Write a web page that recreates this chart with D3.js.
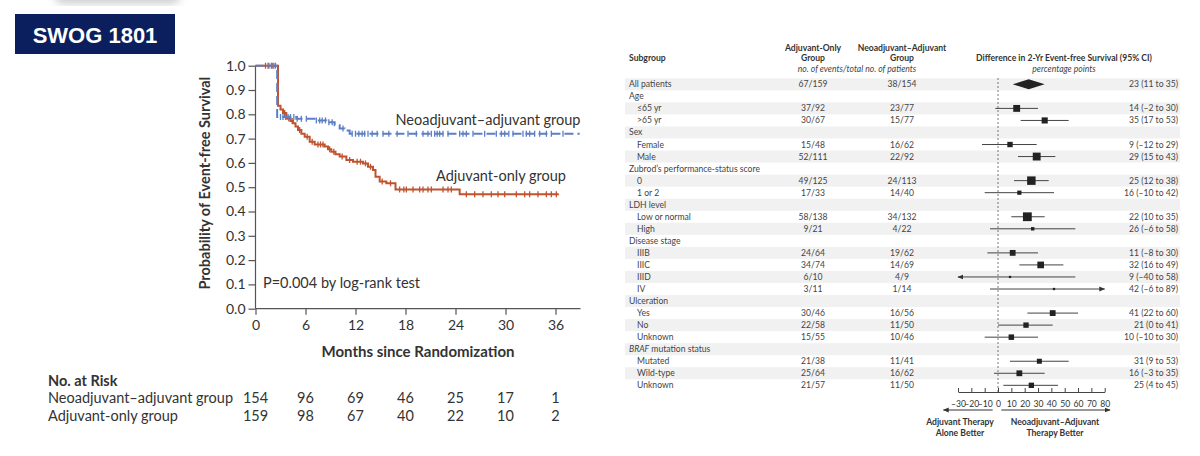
<!DOCTYPE html>
<html>
<head>
<meta charset="utf-8">
<script src="https://cdn.jsdelivr.net/npm/d3@7"></script>
<style>
  body { margin: 0; background: #fff; }
  svg { display: block; font-family: Lato, 'Open Sans', sans-serif; }
</style>
</head>
<body>
<svg width="1200" height="456"></svg>
<script>
// ---- Kaplan-Meier data ----
let riskMonths = [0, 6, 12, 18, 24, 30, 36];
let neoRisk = [154, 96, 69, 46, 25, 17, 1];
let adjRisk = [159, 98, 67, 40, 22, 10, 2];
let yTickValues = [0, 0.1, 0.2, 0.3, 0.4, 0.5, 0.6, 0.7, 0.8, 0.9, 1.0];

// [month, survival] where each step starts
let neoSteps = [[0, 1], [2.6, 0.789], [4.9, 0.782], [7.3, 0.775], [8.5, 0.767], [9.5, 0.755],
  [10.1, 0.742], [10.7, 0.733], [11.3, 0.72], [38.9, 0.72]];
let adjSteps = [[0, 1], [2.7, 0.835], [3.0, 0.82], [3.3, 0.805], [3.7, 0.783], [4.2, 0.772],
  [4.5, 0.763], [4.8, 0.75], [5.1, 0.735], [5.5, 0.72], [5.9, 0.708], [6.5, 0.687], [7.1, 0.676],
  [8.3, 0.667], [8.7, 0.656], [9.1, 0.646], [9.6, 0.636], [10.1, 0.626], [10.9, 0.612],
  [11.7, 0.605], [12.9, 0.598], [13.5, 0.584], [14.1, 0.571], [14.4, 0.543], [14.9, 0.523],
  [15.7, 0.516], [16.8, 0.491], [24.5, 0.471], [36.4, 0.471]];

// censored observations (months)
let neoCensor = [1.5, 1.9, 2.2, 2.4, 3.0, 3.3, 3.6, 3.9, 4.2, 4.6, 5.0, 5.5, 6.1, 7.3, 7.7, 8.0,
  8.4, 8.8, 9.2, 10.5, 11.6, 12.0, 12.4, 12.8, 13.1, 13.5, 14.0, 14.6, 15.3, 16.0, 17.0, 18.3,
  19.3, 20.1, 20.7, 21.1, 21.5, 21.8, 22.1, 22.5, 23.1, 24.5, 24.9, 25.3, 26.1, 27.5, 28.9, 29.5,
  29.9, 30.4, 30.9, 32.1, 32.5, 32.9, 33.5, 34.1, 34.9, 35.5, 36.9];
let adjCensor = [1.2, 1.6, 2.0, 3.5, 4.0, 4.4, 5.3, 6.2, 6.8, 7.5, 7.8, 8.1, 8.9, 9.4, 10.4,
  11.3, 12.2, 12.6, 13.2, 13.8, 15.2, 16.2, 17.3, 17.8, 18.1, 18.9, 19.7, 20.1, 20.7, 21.1, 22.5,
  23.1, 23.5, 25.3, 26.3, 27.3, 28.3, 29.1, 29.9, 31.3, 32.3, 32.9, 33.9, 34.9, 35.5, 36.1];

// ---- Forest plot data ----
let subgroups = ['All patients', 'Age', '≤65 yr', '>65 yr', 'Sex', 'Female', 'Male',
  "Zubrod’s performance-status score", '0', '1 or 2', 'LDH level', 'Low or normal', 'High',
  'Disease stage', 'IIIB', 'IIIC', 'IIID', 'IV', 'Ulceration', 'Yes', 'No', 'Unknown',
  'BRAF mutation status', 'Mutated', 'Wild-type', 'Unknown'];
let adjEvents = ['67/159', null, '37/92', '30/67', null, '15/48', '52/111', null, '49/125', '17/33',
  null, '58/138', '9/21', null, '24/64', '34/74', '6/10', '3/11', null, '30/46', '22/58', '15/55',
  null, '21/38', '25/64', '21/57'];
let neoEvents = ['38/154', null, '23/77', '15/77', null, '16/62', '22/92', null, '24/113', '14/40',
  null, '34/132', '4/22', null, '19/62', '14/69', '4/9', '1/14', null, '16/56', '11/50', '10/46',
  null, '11/41', '16/62', '11/50'];
let diffEst = [23, null, 14, 35, null, 9, 29, null, 25, 16, null, 22, 26, null, 11, 32, 9, 42,
  null, 41, 21, 10, null, 31, 16, 25];
let diffLow = [11, null, -2, 17, null, -12, 15, null, 12, -10, null, 10, -6, null, -8, 16, -40, -6,
  null, 22, 0, -10, null, 9, -3, 4];
let diffHigh = [35, null, 30, 53, null, 29, 43, null, 38, 42, null, 35, 58, null, 30, 49, 58, 89,
  null, 60, 41, 30, null, 53, 35, 45];
let forestTicks = [-30, -20, -10, 0, 10, 20, 30, 40, 50, 60, 70, 80];

let svg = d3.select('svg');
let ink = '#333';
let neoColor = '#5b7fc6';
let adjColor = '#c0532f';

// ---- Title badge ----
let defs = svg.append('defs');
defs.append('filter').attr('id', 'blur').append('feGaussianBlur').attr('stdDeviation', 4);
svg.append('rect').attr('x', 55).attr('y', -14).attr('width', 125).attr('height', 18)
  .attr('rx', 8).attr('fill', '#cfcfcf').attr('filter', 'url(#blur)');
svg.append('rect').attr('x', 15).attr('y', 14).attr('width', 160).attr('height', 40)
  .attr('fill', '#0b1f5e');
svg.append('text').attr('x', 95).attr('y', 42.5).attr('text-anchor', 'middle')
  .attr('fill', '#fff').style('font-family', "'Liberation Sans', Arial, sans-serif")
  .style('font-weight', 700).style('font-size', '22px').text('SWOG 1801');

// ---- KM chart ----
let x = d3.scaleLinear().domain([0, 39]).range([255.5, 580.5]);
let y = d3.scaleLinear().domain([0, 1]).range([308.7, 65.7]);

let km = svg.append('g');

let yAxis = km.append('g').attr('transform', `translate(${x(0)},0)`)
  .call(d3.axisLeft(y).tickValues(yTickValues).tickFormat(d3.format('.1f')).tickSize(7).tickPadding(3));
let xAxis = km.append('g').attr('transform', `translate(0,${y(0)})`)
  .call(d3.axisBottom(x).tickValues(riskMonths).tickSize(6).tickPadding(5));
[xAxis, yAxis].forEach(a => {
  a.selectAll('line').attr('stroke', '#555').attr('stroke-width', 1.2);
  a.select('.domain').attr('stroke', '#555').attr('stroke-width', 1.2);
  a.selectAll('text').attr('fill', ink).style('font-family', 'Lato, sans-serif').style('font-size', '14px');
});
xAxis.select('.domain').attr('d', `M${x(0)},0H${x(39)}`);
yAxis.select('.domain').attr('d', `M0,${y(0)}V${y(1)}`);

km.append('text')
  .attr('transform', `translate(210,${(y(0) + y(1)) / 2 - 4}) rotate(-90)`)
  .attr('text-anchor', 'middle').attr('fill', ink)
  .style('font-size', '14.5px').style('font-weight', 700)
  .text('Probability of Event-free Survival');
km.append('text').attr('x', (x(0) + x(39)) / 2).attr('y', 357).attr('text-anchor', 'middle')
  .attr('fill', ink).style('font-size', '15px').style('font-weight', 700)
  .text('Months since Randomization');

let stepLine = d3.line().x(d => x(d[0])).y(d => y(d[1])).curve(d3.curveStepAfter);

function survAt(steps, t) {
  let i = d3.bisector(d => d[0]).right(steps, t) - 1;
  return steps[Math.max(i, 0)][1];
}

function drawCurve(steps, censor, color, dash) {
  km.append('path').datum(steps).attr('d', stepLine)
    .attr('fill', 'none').attr('stroke', color).attr('stroke-width', 2)
    .attr('stroke-dasharray', dash);
  km.append('g').selectAll('line').data(censor).enter().append('line')
    .attr('x1', d => x(d)).attr('x2', d => x(d))
    .attr('y1', d => y(survAt(steps, d)) - 3).attr('y2', d => y(survAt(steps, d)) + 3)
    .attr('stroke', color).attr('stroke-width', 1.3);
}
drawCurve(adjSteps, adjCensor, adjColor, null);
drawCurve(neoSteps, neoCensor, neoColor, '9,4');

km.append('text').attr('x', x(39)).attr('y', 125).attr('text-anchor', 'end')
  .attr('fill', ink).style('font-size', '14.5px').text('Neoadjuvant–adjuvant group');
km.append('text').attr('x', 436).attr('y', 181)
  .attr('fill', ink).style('font-size', '14.5px').text('Adjuvant-only group');
km.append('text').attr('x', 263).attr('y', 288)
  .attr('fill', ink).style('font-size', '14.5px').text('P=0.004 by log-rank test');

// ---- Number at risk ----
let risk = svg.append('g').attr('fill', ink).style('font-size', '14.5px');
risk.append('text').attr('x', 48).attr('y', 386).style('font-weight', 700).text('No. at Risk');
[['Neoadjuvant–adjuvant group', neoRisk, 403], ['Adjuvant-only group', adjRisk, 421]].forEach(r => {
  risk.append('text').attr('x', 48).attr('y', r[2]).text(r[0]);
  risk.selectAll(null).data(r[1]).enter().append('text')
    .attr('x', (d, i) => x(riskMonths[i])).attr('y', r[2]).attr('text-anchor', 'middle')
    .text(d => d);
});

// ---- Forest plot ----
let xF = d3.scaleLinear().domain([-30, 80]).range([958, 1104.7]);
let yF = d3.scaleBand().domain(d3.range(subgroups.length)).range([78.3, 78.3 + subgroups.length * 12.04]);
let fp = svg.append('g').style('font-size', '8.6px').attr('fill', '#444');

// header
let hdr = fp.append('g').attr('fill', ink).style('font-weight', 700);
hdr.append('text').attr('x', 629).attr('y', 61).text('Subgroup');
hdr.append('text').attr('x', 813).attr('y', 51).attr('text-anchor', 'middle').text('Adjuvant-Only');
hdr.append('text').attr('x', 813).attr('y', 61).attr('text-anchor', 'middle').text('Group');
hdr.append('text').attr('x', 902).attr('y', 51).attr('text-anchor', 'middle').text('Neoadjuvant–Adjuvant');
hdr.append('text').attr('x', 902).attr('y', 61).attr('text-anchor', 'middle').text('Group');
hdr.append('text').attr('x', 1064).attr('y', 61).attr('text-anchor', 'middle')
  .text('Difference in 2-Yr Event-free Survival (95% CI)');
fp.append('text').attr('x', 857).attr('y', 71.5).attr('text-anchor', 'middle')
  .style('font-style', 'italic').text('no. of events/total no. of patients');
fp.append('text').attr('x', 1064).attr('y', 71.5).attr('text-anchor', 'middle')
  .style('font-style', 'italic').text('percentage points');

let bh = yF.bandwidth();
let rows = fp.selectAll('g.row').data(subgroups).enter().append('g').attr('class', 'row')
  .attr('transform', (d, i) => `translate(0,${yF(i)})`);
rows.filter((d, i) => i % 2 === 0).append('rect')
  .attr('x', 625).attr('width', 555).attr('height', bh).attr('fill', '#f1f1f1');

rows.append('text')
  .attr('x', (d, i) => (i > 0 && diffEst[i] !== null) ? 637 : 629)
  .attr('y', bh / 2 + 3)
  .each(function (d) {
    let t = d3.select(this);
    if (d.startsWith('BRAF')) {
      t.append('tspan').style('font-style', 'italic').text('BRAF');
      t.append('tspan').text(d.slice(4));
    } else t.text(d);
  });
rows.append('text').attr('x', 813).attr('y', bh / 2 + 3).attr('text-anchor', 'middle')
  .text((d, i) => adjEvents[i] || '');
rows.append('text').attr('x', 902).attr('y', bh / 2 + 3).attr('text-anchor', 'middle')
  .text((d, i) => neoEvents[i] || '');

let fmt = v => (v < 0 ? '–' + Math.abs(v) : '' + v);
rows.append('text').attr('x', 1178).attr('y', bh / 2 + 3).attr('text-anchor', 'end')
  .text((d, i) => diffEst[i] === null ? '' : `${diffEst[i]} (${fmt(diffLow[i])} to ${fmt(diffHigh[i])})`);

// zero line
fp.append('line').attr('x1', xF(0)).attr('x2', xF(0)).attr('y1', 78).attr('y2', 392)
  .attr('stroke', '#555').attr('stroke-width', 0.8).attr('stroke-dasharray', '2,2');

// arrowhead marker
defs.append('marker').attr('id', 'arr').attr('viewBox', '0 0 10 10').attr('refX', 9).attr('refY', 5)
  .attr('markerWidth', 6).attr('markerHeight', 6).attr('orient', 'auto-start-reverse')
  .attr('markerUnits', 'userSpaceOnUse')
  .append('path').attr('d', 'M0,1L10,5L0,9Z').attr('fill', '#333');

// CIs and markers
let dom = xF.domain();
rows.each(function (d, i) {
  if (diffEst[i] === null) return;
  let g = d3.select(this);
  let cy = bh / 2;
  let lo = diffLow[i], hi = diffHigh[i], est = diffEst[i];
  if (i === 0) {
    g.append('path')
      .attr('d', `M${xF(lo)},${cy}L${xF(est)},${cy - 5}L${xF(hi)},${cy}L${xF(est)},${cy + 5}Z`)
      .attr('fill', '#222');
    return;
  }
  let ln = g.append('line')
    .attr('x1', xF(Math.max(lo, dom[0]))).attr('x2', xF(Math.min(hi, dom[1])))
    .attr('y1', cy).attr('y2', cy).attr('stroke', '#444').attr('stroke-width', 1);
  if (lo < dom[0]) ln.attr('marker-start', 'url(#arr)');
  if (hi > dom[1]) ln.attr('marker-end', 'url(#arr)');
  let side = Math.max(2, 110 / ((hi - lo) / 2));
  g.append('rect').attr('x', xF(est) - side / 2).attr('y', cy - side / 2)
    .attr('width', side).attr('height', side).attr('fill', '#222');
});

// forest axis
let fAxis = fp.append('g').attr('transform', 'translate(0,392)')
  .call(d3.axisBottom(xF).tickValues(forestTicks).tickFormat(fmt).tickSizeInner(-4).tickSizeOuter(0).tickPadding(9));
fAxis.select('.domain').attr('stroke', '#444');
fAxis.selectAll('line').attr('stroke', '#444');
fAxis.selectAll('text').attr('fill', ink).style('font-family', 'Lato, sans-serif').style('font-size', '8.6px');

fp.append('line').attr('x1', xF(-4)).attr('x2', xF(-41)).attr('y1', 410).attr('y2', 410)
  .attr('stroke', '#333').attr('marker-end', 'url(#arr)');
fp.append('line').attr('x1', xF(2.5)).attr('x2', xF(84)).attr('y1', 410).attr('y2', 410)
  .attr('stroke', '#333').attr('marker-end', 'url(#arr)');

let lab = fp.append('g').attr('fill', ink).style('font-weight', 700).attr('text-anchor', 'middle');
lab.append('text').attr('x', 960).attr('y', 425).text('Adjuvant Therapy');
lab.append('text').attr('x', 960).attr('y', 436).text('Alone Better');
lab.append('text').attr('x', 1055).attr('y', 425).text('Neoadjuvant–Adjuvant');
lab.append('text').attr('x', 1055).attr('y', 436).text('Therapy Better');
</script>
</body>
</html>
